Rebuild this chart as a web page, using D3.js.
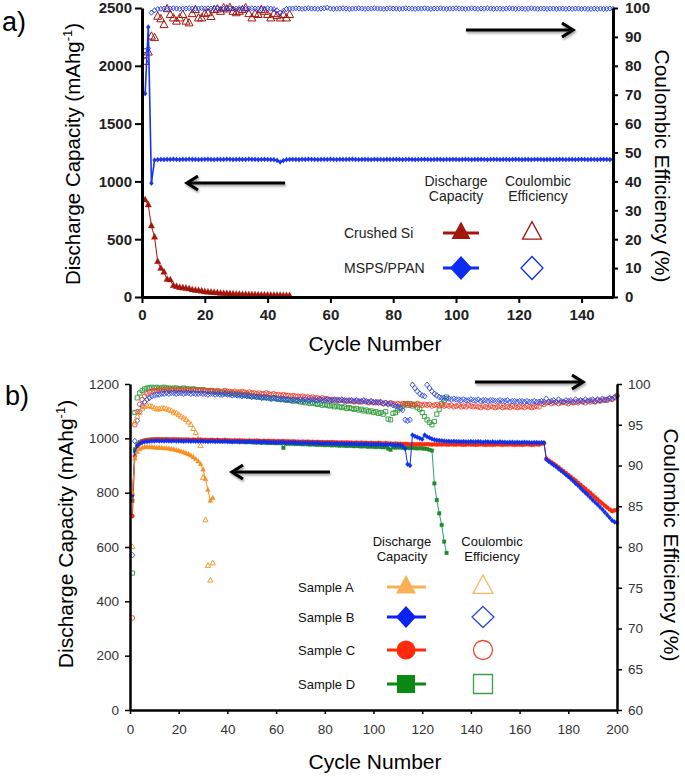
<!DOCTYPE html>
<html><head><meta charset="utf-8">
<script src="https://cdn.jsdelivr.net/npm/d3@7"></script>
<style>
html,body{margin:0;padding:0;background:#fff;}
svg{display:block;font-family:"Liberation Sans",Arial,sans-serif;}
</style></head>
<body>
<svg id="chart" width="685" height="777"></svg>
<script>
// ---------------- DATA: panel a ----------------
const aTicksLeft = [0,500,1000,1500,2000,2500];
const aTicksBottom = [0,20,40,60,80,100,120,140];
const aTicksRight = [0,10,20,30,40,50,60,70,80,90,100];
const aSeriesNames = ["Crushed Si","MSPS/PPAN"];
// Crushed Si discharge capacity (mAh/g), cycles 1..47
const siCap = [839,796,614,517,306,248,214,153,147,98,90,80,78,75,70,62,58,55,50,45,42,40,38,35,32,30,28,26,25,23,22,21,20,19,18,18,17,16,16,15,14,14,13,13,12,12,11];
// Crushed Si coulombic efficiency (%), cycles 1..47
const siCE = [81.4,84.6,90.1,89.6,97.0,96.1,94.1,99.6,97.6,96.4,95.3,96.4,97.6,95.3,94.7,97.9,99.3,96.4,96.4,97.9,98.2,96.9,99.3,99.5,98.7,99.9,99.5,100,98.7,98.2,98.7,99.3,99.9,97.9,96.4,97.9,97.6,99.3,98.7,97.6,96.4,97.9,97.2,96.4,97.6,96.4,97.6];
// MSPS/PPAN discharge capacity, cycles 1..150
const msCap = [1760,2335,985,1185,1188,1190,1189,1191,1190,1192,
1190,1189,1191,1190,1192,1191,1190,1189,1190,1191,
1192,1190,1189,1191,1190,1190,1192,1191,1189,1190,
1191,1190,1190,1192,1191,1190,1189,1190,1191,1190,
1189,1188,1182,1168,1180,1188,1190,1191,1190,1189,
1191,1190,1192,1191,1190,1189,1190,1191,1190,1192,
1190,1189,1191,1190,1190,1191,1192,1190,1189,1190,
1191,1190,1189,1191,1190,1190,1189,1191,1190,1190,
1191,1190,1189,1190,1191,1190,1189,1190,1190,1191,
1190,1189,1190,1191,1190,1189,1190,1190,1191,1190,
1189,1190,1191,1190,1189,1190,1190,1191,1190,1189,
1190,1191,1190,1189,1190,1190,1189,1190,1191,1190,
1189,1190,1190,1189,1190,1191,1190,1189,1190,1190,
1189,1190,1191,1190,1189,1190,1190,1189,1190,1191,
1190,1189,1190,1190,1189,1190,1191,1190,1189,1190];
// MSPS/PPAN coulombic efficiency (%), cycles 1..150
const msCE = [85.2,86.0,98.4,99.2,99.6,99.7,99.8,99.7,99.8,99.9,
99.8,99.7,99.8,99.8,99.9,99.8,99.7,99.8,99.9,99.8,
99.9,99.8,99.8,99.9,99.8,99.7,99.8,99.9,99.8,99.8,
99.9,99.8,99.7,99.8,99.9,99.8,99.8,99.7,99.8,99.9,
99.8,99.6,99.2,98.3,99.0,99.7,99.8,99.8,99.9,99.8,
99.7,99.8,99.9,99.8,99.8,99.7,99.8,99.9,100.1,99.8,
99.7,99.8,99.8,99.9,99.8,99.7,99.8,99.8,99.9,99.8,
99.7,99.8,99.8,99.9,99.8,99.8,99.7,99.8,99.9,99.8,
99.8,99.7,99.8,99.9,99.8,99.8,99.7,99.8,99.8,99.9,
99.8,99.7,99.8,99.8,99.9,99.8,99.7,99.8,99.8,99.9,
99.8,99.8,99.7,99.8,99.9,99.8,99.7,99.8,99.8,99.9,
99.8,99.7,99.8,99.8,99.7,99.8,99.9,99.8,99.7,99.8,
99.8,99.7,99.8,99.9,99.8,99.7,99.8,99.8,99.7,99.8,
99.8,99.7,99.8,99.8,99.7,99.8,99.7,99.8,99.8,99.7,
99.8,99.7,99.7,99.8,99.7,99.8,99.7,99.7,99.8,99.7];

// ---------------- DATA: panel b ----------------
const bTicksLeft = [0,200,400,600,800,1000,1200];
const bTicksBottom = [0,20,40,60,80,100,120,140,160,180,200];
const bTicksRight = [60,65,70,75,80,85,90,95,100];
const bSeriesNames = ["Sample A","Sample B","Sample C","Sample D"];
// Sample A, cycles 1..34
const aCap = [800,925,950,960,965,968,968,967,967,966,965,965,964,963,963,962,960,958,956,954,951,948,945,941,936,930,923,915,905,885,850,810,770,780];
const aCE = [80.0,95.3,96.0,96.5,97.0,97.2,97.3,97.3,97.2,97.0,96.9,96.9,97.0,97.0,96.9,96.8,96.7,96.5,96.4,96.2,96.0,95.8,95.6,95.3,95.0,94.5,94.0,93.2,92.4,88.5,83.3,77.7,75.9,78.0];
// Sample B, cycles 1..200
const bCap = [790,950,972,980,985,987,988,989,990,990,
991,990,991,990,991,990,990,991,990,990,
990,989,990,990,989,990,989,989,990,989,
989,988,989,989,988,989,988,988,989,988,
988,987,988,988,987,988,987,987,988,987,
987,986,987,986,987,986,986,985,986,985,
985,986,985,984,985,984,985,984,983,984,
983,984,983,982,983,982,983,982,981,982,
981,982,981,980,981,980,981,980,979,980,
979,980,979,978,979,978,979,978,977,978,
977,978,977,976,977,976,977,976,975,976,
975,972,962,905,900,1012,1008,1004,1000,997,
1012,1006,1002,998,995,993,992,991,990,989,
989,988,989,988,988,987,988,987,987,988,
987,987,988,987,986,987,987,986,987,986,
986,987,986,986,985,986,986,985,986,985,
985,986,985,985,984,985,985,984,985,984,
922,915,908,902,895,888,881,874,866,859,
851,843,834,826,817,808,800,791,782,773,
765,756,747,738,728,718,708,698,692,689];
const bCE = [79.0,93.0,95.5,96.6,97.3,97.8,98.1,98.3,98.5,98.6,
98.7,98.7,98.8,98.8,98.9,98.8,98.9,98.9,98.8,98.9,
98.9,98.8,98.9,98.9,98.8,98.9,98.8,98.8,98.9,98.8,
98.8,98.7,98.8,98.8,98.7,98.8,98.7,98.7,98.8,98.7,
98.7,98.6,98.7,98.6,98.6,98.5,98.6,98.5,98.5,98.4,
98.5,98.4,98.4,98.3,98.4,98.3,98.3,98.2,98.3,98.2,
98.2,98.1,98.2,98.1,98.1,98.0,98.1,98.0,98.0,98.1,
98.0,98.1,98.0,98.0,98.1,98.0,98.0,98.1,98.0,98.0,
98.1,98.0,98.0,98.1,98.0,98.0,98.1,98.0,97.9,98.0,
98.0,97.9,98.0,97.9,97.9,98.0,97.9,97.8,97.9,97.8,
97.8,97.7,97.8,97.6,97.7,97.5,97.6,97.4,97.3,97.2,
97.1,96.8,95.6,95.5,95.6,99.9,99.5,99.1,98.8,98.6,
98.5,99.9,99.5,99.1,98.8,98.6,98.4,98.3,98.3,98.2,
98.2,98.1,98.2,98.1,98.1,98.0,98.1,98.0,98.0,98.1,
98.0,98.0,98.1,97.9,98.0,98.0,97.9,98.0,98.0,97.9,
97.9,98.0,97.9,97.9,98.0,97.8,97.9,97.9,97.8,97.9,
97.9,97.8,97.9,97.8,97.8,97.9,97.8,97.8,97.9,97.8,
98.2,97.8,97.9,98.0,97.8,98.1,97.9,97.8,98.0,97.9,
98.0,97.8,98.1,97.9,98.0,97.9,98.1,97.9,98.0,98.1,
97.9,98.1,98.0,98.2,98.0,98.1,98.3,98.2,98.4,98.5];
// Sample C, cycles 1..200
const cCap = [714,935,972,982,988,991,993,994,995,995,
995,996,995,995,996,995,995,996,995,995,
995,994,995,995,994,995,994,994,995,994,
994,993,994,994,993,994,993,993,994,993,
993,992,993,992,993,992,992,991,992,991,
991,992,991,990,991,990,991,990,990,989,
990,989,990,989,989,988,989,988,988,987,
988,987,988,987,987,986,987,986,986,985,
986,985,986,985,985,984,985,984,985,984,
984,983,984,983,984,983,983,982,983,982,
982,983,982,981,982,981,981,980,981,980,
980,979,980,979,978,979,978,978,979,978,
978,979,978,977,978,977,978,977,978,977,
977,978,977,977,978,977,976,977,978,977,
977,976,977,978,977,976,977,977,976,977,
978,977,976,977,977,978,977,976,977,977,
976,977,978,977,976,977,978,977,980,982,
925,918,912,906,900,893,886,879,872,865,
858,851,844,836,829,821,814,806,799,791,
783,775,767,760,752,745,738,732,735,736];
const cCE = [71.3,95.0,96.6,97.5,98.1,98.5,98.8,99.0,99.1,99.2,
99.2,99.3,99.2,99.3,99.3,99.2,99.3,99.3,99.2,99.3,
99.3,99.2,99.3,99.2,99.2,99.3,99.2,99.2,99.3,99.2,
99.2,99.1,99.2,99.2,99.1,99.2,99.1,99.1,99.2,99.1,
99.1,99.0,99.1,99.0,99.0,99.1,99.0,98.9,99.0,98.9,
98.9,98.8,98.9,98.8,98.8,98.9,98.8,98.7,98.8,98.7,
98.7,98.6,98.7,98.6,98.6,98.5,98.6,98.5,98.5,98.4,
98.5,98.4,98.4,98.3,98.4,98.3,98.3,98.2,98.3,98.2,
98.2,98.1,98.1,98.0,98.1,98.0,98.0,97.9,98.0,97.9,
97.9,97.8,97.9,97.8,97.8,97.9,97.8,97.7,97.8,97.7,
97.7,97.8,97.7,97.6,97.7,97.6,97.7,97.6,97.5,97.6,
97.5,97.6,97.5,97.6,97.4,97.5,97.4,97.6,97.5,97.4,
97.5,97.4,97.5,97.3,97.4,97.5,97.3,97.4,97.3,97.4,
97.3,97.4,97.2,97.3,97.4,97.2,97.3,97.2,97.4,97.3,
97.2,97.3,97.2,97.1,97.3,97.2,97.1,97.3,97.2,97.1,
97.2,97.3,97.1,97.2,97.2,97.1,97.3,97.2,97.1,97.2,
97.2,97.1,97.3,97.2,97.1,97.2,97.3,97.2,97.6,97.5,
97.7,97.8,97.6,97.7,97.8,97.6,97.7,97.8,97.7,97.6,
97.8,97.7,97.8,97.7,97.9,97.8,97.7,97.9,97.8,97.9,
97.8,98.0,97.9,98.0,98.1,98.0,98.2,98.1,98.3,98.6];
// Sample D, cycles 1..130
const dCap = [770,960,978,986,990,992,994,995,995,996,
996,995,996,995,996,995,995,994,995,995,
994,995,994,994,993,994,993,993,992,993,
992,992,991,992,991,990,991,990,990,989,
989,988,989,988,987,988,987,986,987,986,
985,986,985,984,985,984,983,984,983,982,
983,982,965,981,980,981,980,979,980,979,
978,979,978,977,978,977,976,977,976,975,
976,975,974,975,974,973,974,973,972,973,
972,971,972,971,970,971,970,969,970,969,
968,969,968,967,968,962,958,967,966,967,
966,965,966,965,964,965,964,963,964,963,
962,961,958,955,834,773,724,681,620,578];
const dCE = [76.8,96.5,98.3,98.9,99.2,99.4,99.5,99.5,99.6,99.5,
99.6,99.5,99.5,99.6,99.5,99.5,99.4,99.5,99.5,99.4,
99.4,99.5,99.4,99.4,99.3,99.4,99.3,99.3,99.2,99.3,
99.2,99.1,99.2,99.1,99.0,99.1,99.0,98.9,99.0,98.9,
98.8,98.9,98.8,98.7,98.8,98.7,98.6,98.7,98.6,98.5,
98.5,98.4,98.5,98.4,98.3,98.4,98.3,98.2,98.3,98.2,
98.1,98.2,98.1,98.0,98.1,98.0,97.9,98.0,97.9,97.8,
97.8,97.7,97.8,97.6,97.7,97.6,97.5,97.6,97.4,97.5,
97.4,97.3,97.4,97.2,97.3,97.2,97.1,97.2,97.0,97.1,
97.0,96.9,97.0,96.8,96.9,96.7,96.8,96.6,96.7,96.5,
96.6,96.4,96.5,96.3,96.6,95.7,95.6,96.4,96.5,96.8,
97.0,97.3,97.6,97.4,97.6,97.3,97.5,97.1,96.9,96.5,
96.0,95.6,95.3,95.0,95.4,96.3,96.9,97.6,98.0,98.4];

// ---------------- DRAWING ----------------
const svg = d3.select("#chart");
const defs = svg.append("defs");
const f = defs.append("filter").attr("id","shadow").attr("x","-20%").attr("y","-50%").attr("width","140%").attr("height","200%");
f.append("feDropShadow").attr("dx",1).attr("dy",2).attr("stdDeviation",1.2).attr("flood-color","#000").attr("flood-opacity",0.35);

const triPath = s => `M0,${-s*0.6}L${s/2},${s*0.32}L${-s/2},${s*0.32}Z`;
const diaPath = (w,h) => `M0,${-h}L${w},0L0,${h}L${-w},0Z`;
const sqPath = s => `M${-s/2},${-s/2}h${s}v${s}h${-s}Z`;
const circPath = r => `M${r},0A${r},${r} 0 1,1 ${-r},0A${r},${r} 0 1,1 ${r},0Z`;
const fmt = d3.format("d");

function series(g, vals, xs, ys, opts){
  const pts = vals.map((v,i)=>({c:i+1,v:v}));
  if(opts.line){
    g.append("path").datum(pts)
      .attr("d", d3.line().x(d=>xs(d.c)).y(d=>ys(d.v)))
      .attr("fill","none").attr("stroke",opts.lineColor||opts.color).attr("stroke-width",opts.lw||1);
  }
  g.append("g").selectAll("path").data(pts).join("path")
    .attr("transform", d=>`translate(${xs(d.c)},${ys(d.v)})`)
    .attr("d", opts.shape)
    .attr("fill", opts.open ? "none" : opts.color)
    .attr("stroke", opts.color)
    .attr("stroke-width", opts.open ? (opts.sw||0.9) : 0.3);
}

function arrow(x1,x2,y){
  const g = svg.append("g").attr("filter","url(#shadow)");
  const dir = Math.sign(x2-x1);
  g.append("line").attr("x1",x1).attr("x2",x2-dir*1).attr("y1",y).attr("y2",y)
    .attr("stroke","#000").attr("stroke-width",3.2);
  g.append("path").attr("d",`M${x2-dir*11},${y-7}L${x2},${y}L${x2-dir*11},${y+7}`)
    .attr("fill","none").attr("stroke","#000").attr("stroke-width",3.2).attr("stroke-linejoin","miter");
}

function styleAxis(g, domainW, tickW, fontSize, weight, color){
  g.select(".domain").attr("stroke","#000").attr("stroke-width",domainW);
  g.selectAll(".tick line").attr("stroke","#000").attr("stroke-width",tickW);
  g.selectAll(".tick text").attr("font-size",fontSize).attr("font-weight",weight)
    .attr("fill",color).attr("font-family","'Liberation Sans',Arial,sans-serif");
}

// ===== Panel a =====
const xa = d3.scaleLinear().domain([0,150]).range([142,613]);
const yaL = d3.scaleLinear().domain([0,2500]).range([297,8]);
const yaR = d3.scaleLinear().domain([0,100]).range([297,8]);
const colSi = "#a3160c", colMS = "#1b36e8";

const pa = svg.append("g");
series(pa, siCE, xa, yaR, {shape:triPath(8), color:colSi, open:true, sw:1});
series(pa, msCE, xa, yaR, {shape:diaPath(2.3,2.6), color:colMS, open:true, sw:0.9});
series(pa, siCap, xa, yaL, {shape:triPath(6.5), color:colSi, line:true, lw:1});
series(pa, msCap, xa, yaL, {shape:diaPath(2,2.6), color:colMS, line:true, lw:1.6});

const axL1 = pa.append("g").attr("transform","translate(142,0)")
  .call(d3.axisLeft(yaL).tickValues(aTicksLeft).tickFormat(fmt).tickSize(7).tickSizeOuter(0).tickPadding(3));
styleAxis(axL1, 3, 2, "15px", "bold", "#222");
const axB1 = pa.append("g").attr("transform","translate(0,297)")
  .call(d3.axisBottom(xa).tickValues(aTicksBottom).tickFormat(fmt).tickSize(6).tickSizeOuter(0).tickPadding(6));
styleAxis(axB1, 3, 2, "15px", "bold", "#222");
const axR1 = pa.append("g").attr("transform","translate(613,0)")
  .call(d3.axisRight(yaR).tickValues(aTicksRight).tickFormat(fmt).tickSize(5).tickSizeOuter(0).tickPadding(7));
styleAxis(axR1, 3, 2, "15px", "bold", "#222");

svg.append("text").attr("x",2).attr("y",31).attr("font-size",27).text("a)");
svg.append("text").attr("x",375).attr("y",351).attr("text-anchor","middle").attr("font-size",21).text("Cycle Number");
const yt1 = svg.append("text").attr("transform","translate(80,154) rotate(-90)").attr("text-anchor","middle").attr("font-size",20.5);
yt1.append("tspan").text("Discharge Capacity (mAhg");
yt1.append("tspan").attr("dy",-8).attr("font-size",13).text("-1");
yt1.append("tspan").attr("dy",8).text(")");
svg.append("text").attr("transform","translate(655,166) rotate(90)").attr("text-anchor","middle").attr("font-size",21).text("Coulombic Efficiency (%)");

arrow(466,573,30);
arrow(285,187,183);

// legend a
const lgA = svg.append("g").attr("font-size",14).attr("fill","#222");
lgA.append("text").attr("x",456).attr("y",186).attr("text-anchor","middle").text("Discharge");
lgA.append("text").attr("x",456).attr("y",201).attr("text-anchor","middle").text("Capacity");
lgA.append("text").attr("x",538).attr("y",186).attr("text-anchor","middle").text("Coulombic");
lgA.append("text").attr("x",538).attr("y",201).attr("text-anchor","middle").text("Efficiency");
const lgARows = [
  {name:aSeriesNames[0], y:233, color:colSi, filled:triPath(19), open:triPath(19)},
  {name:aSeriesNames[1], y:268, color:"#0b2cf2", filled:diaPath(11,12), open:diaPath(11,11.5)}
];
lgARows.forEach(r=>{
  lgA.append("text").attr("x",344).attr("y",r.y+5).text(r.name);
  lgA.append("line").attr("x1",443).attr("x2",479).attr("y1",r.y).attr("y2",r.y).attr("stroke",r.color).attr("stroke-width",3);
  lgA.append("path").attr("transform",`translate(461,${r.y})`).attr("d",r.filled).attr("fill",r.color);
  lgA.append("path").attr("transform",`translate(532,${r.y})`).attr("d",r.open).attr("fill","none").attr("stroke",r.color).attr("stroke-width",1.3);
});

// ===== Panel b =====
const xb = d3.scaleLinear().domain([0,200]).range([130,617]);
const ybL = d3.scaleLinear().domain([0,1200]).range([710,384]);
const ybR = d3.scaleLinear().domain([60,100]).range([710,384]);
const colA = "#f7901e", colB = "#1030ec", colC = "#fb2a0c", colD = "#1e8a2a";

const pb = svg.append("g");
series(pb, dCE, xb, ybR, {shape:sqPath(4.2), color:"#2e9a3a", open:true, sw:0.9});
series(pb, cCE, xb, ybR, {shape:circPath(2.3), color:"#f0402a", open:true, sw:0.9});
series(pb, bCE, xb, ybR, {shape:diaPath(2.4,2.8), color:"#2a48e6", open:true, sw:0.9});
series(pb, aCE, xb, ybR, {shape:triPath(5.2), color:colA, open:true, sw:0.9});
series(pb, dCap, xb, ybL, {shape:sqPath(3.6), color:colD, line:true, lw:1, lineColor:"#2f9a7e"});
series(pb, cCap, xb, ybL, {shape:circPath(2.1), color:colC, line:true, lw:1});
series(pb, bCap, xb, ybL, {shape:diaPath(2.1,2.5), color:colB, line:true, lw:1});
series(pb, aCap, xb, ybL, {shape:triPath(5), color:colA, line:true, lw:1});

const axL2 = pb.append("g").attr("transform","translate(130,0)")
  .call(d3.axisLeft(ybL).tickValues(bTicksLeft).tickFormat(fmt).tickSize(5).tickSizeOuter(0).tickPadding(6));
styleAxis(axL2, 2.5, 1.5, "13.5px", "normal", "#333");
const axB2 = pb.append("g").attr("transform","translate(0,710)")
  .call(d3.axisBottom(xb).tickValues(bTicksBottom).tickFormat(fmt).tickSize(4).tickSizeOuter(0).tickPadding(10));
styleAxis(axB2, 2.5, 1.5, "13.5px", "normal", "#333");
const axR2 = pb.append("g").attr("transform","translate(617,0)")
  .call(d3.axisRight(ybR).tickValues(bTicksRight).tickFormat(fmt).tickSize(5).tickSizeOuter(0).tickPadding(6));
styleAxis(axR2, 2.5, 1.5, "13.5px", "normal", "#333");

svg.append("text").attr("x",5).attr("y",405).attr("font-size",27).text("b)");
svg.append("text").attr("x",375).attr("y",769).attr("text-anchor","middle").attr("font-size",21).text("Cycle Number");
const yt2 = svg.append("text").attr("transform","translate(73,534) rotate(-90)").attr("text-anchor","middle").attr("font-size",21);
yt2.append("tspan").text("Discharge Capacity (mAhg");
yt2.append("tspan").attr("dy",-8).attr("font-size",13).text("-1");
yt2.append("tspan").attr("dy",8).text(")");
svg.append("text").attr("transform","translate(664,545) rotate(90)").attr("text-anchor","middle").attr("font-size",21).text("Coulombic Efficiency (%)");

arrow(475,583,382);
arrow(330,232,472);

// legend b
const lgB = svg.append("g").attr("font-size",13).attr("fill","#111");
lgB.append("text").attr("x",402).attr("y",546).attr("text-anchor","middle").text("Discharge");
lgB.append("text").attr("x",402).attr("y",561).attr("text-anchor","middle").text("Capacity");
lgB.append("text").attr("x",492).attr("y",546).attr("text-anchor","middle").text("Coulombic");
lgB.append("text").attr("x",492).attr("y",561).attr("text-anchor","middle").text("Efficiency");
const lgBRows = [
  {name:bSeriesNames[0], y:587, fill:"#f9b057", stroke:"#f6b862", f:triPath(20), o:triPath(20)},
  {name:bSeriesNames[1], y:617, fill:"#0a22f2", stroke:"#2c4ae0", f:diaPath(10,11), o:diaPath(11,10.5)},
  {name:bSeriesNames[2], y:650, fill:"#ff2a0c", stroke:"#e84a30", f:circPath(9.5), o:circPath(9.5)},
  {name:bSeriesNames[3], y:684, fill:"#0a8a12", stroke:"#3aa043", f:sqPath(18), o:sqPath(19)}
];
lgBRows.forEach(r=>{
  lgB.append("text").attr("x",298).attr("y",r.y+5).text(r.name);
  lgB.append("line").attr("x1",387).attr("x2",426).attr("y1",r.y).attr("y2",r.y).attr("stroke",r.fill).attr("stroke-width",3);
  lgB.append("path").attr("transform",`translate(406,${r.y})`).attr("d",r.f).attr("fill",r.fill);
  lgB.append("path").attr("transform",`translate(483,${r.y})`).attr("d",r.o).attr("fill","none").attr("stroke",r.stroke).attr("stroke-width",1.3);
});
</script>
</body></html>
